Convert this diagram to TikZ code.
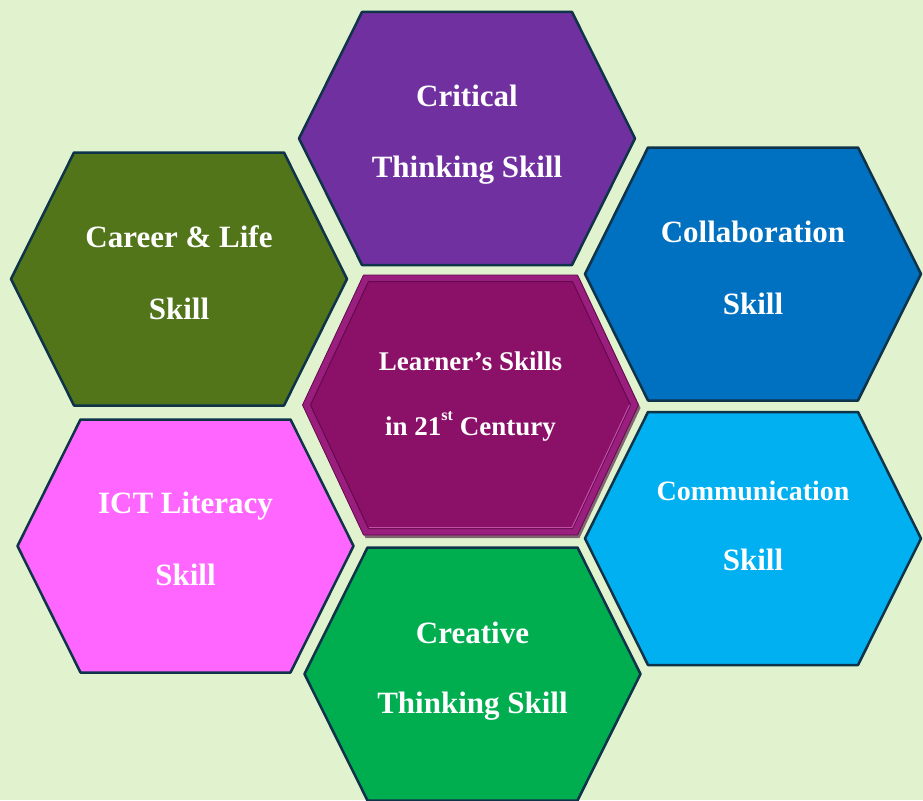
\documentclass[tikz,border=0pt]{standalone}
\usepackage{fontspec}
\setmainfont{Liberation Serif}
\usetikzlibrary{calc}

\definecolor{bgleaf}{HTML}{E1F2CE}
\definecolor{hexline}{HTML}{0F3349}
\definecolor{critfill}{HTML}{7030A0}
\definecolor{careerfill}{HTML}{52751A}
\definecolor{collabfill}{HTML}{0070C0}
\definecolor{ictfill}{HTML}{FF66FF}
\definecolor{commfill}{HTML}{00B0F0}
\definecolor{creafill}{HTML}{00AE50}
\definecolor{corefill}{HTML}{8A1068}
\definecolor{corerim}{HTML}{9A1E7E}
\definecolor{coreedge}{HTML}{640A4C}
\definecolor{coreglow}{HTML}{C050A8}
\definecolor{coreshade}{HTML}{3C0830}

\begin{document}
\begin{tikzpicture}[x=1pt,y=-1pt,
    hexcell/.style={draw=hexline,line width=2.5pt,line join=round},
    hexagon/.style={insert path={++(-168,0) -- ++(63,-126.5) -- ++(210,0) -- ++(63,126.5) -- ++(-63,126.5) -- ++(-210,0) -- cycle}},
    corehex/.style={insert path={++(-168,0) -- ++(61,-130) -- ++(214,0) -- ++(61,130) -- ++(-61,130) -- ++(-214,0) -- cycle}},
    skilltext/.style={anchor=base,text=white,inner sep=0pt,font=\bfseries\fontsize{31}{36}\selectfont},
    smalltext/.style={skilltext,font=\bfseries\fontsize{27}{32}\selectfont}]

  \useasboundingbox (0,0) rectangle (923,800);
  \fill[bgleaf] (0,0) rectangle (923,800);

  % cell centres
  \coordinate (crit) at (467,138.5);
  \coordinate (career) at (179,279);
  \coordinate (collab) at (753,274);
  \coordinate (ict) at (185.5,546);
  \coordinate (comm) at (753,538.5);
  \coordinate (crea) at (472.5,674);
  \coordinate (core) at (470.5,405);

  % outer cells
  \path[hexcell,fill=critfill] (crit) [hexagon];
  \path[hexcell,fill=careerfill] (career) [hexagon];
  \path[hexcell,fill=collabfill] (collab) [hexagon];
  \path[hexcell,fill=ictfill] (ict) [hexagon];
  \path[hexcell,fill=commfill] (comm) [hexagon];
  \path[hexcell,fill=creafill] (crea) [hexagon];

  % bevelled centre cell
  \path[fill=coreshade,opacity=0.6] ($(core)+(2,3)$) [corehex];
  \path[fill=corerim,draw=coreedge,line width=0.8pt,line join=round] (core) [corehex];
  \path[fill=corefill,draw=coreedge,line width=1pt,line join=round]
    ($(core)+(-160,0)$) -- ++(58,-123.5) -- ++(204,0) -- ++(58,123.5) -- ++(-58,123.5) -- ++(-204,0) -- cycle;
  \draw[coreglow,line width=1pt,line join=round]
    ($(core)+(159,0)$) -- ++(-57.5,122.5) -- ++(-203,0);

  \node[skilltext] (crit-a) at ($(crit)+(0,-32.5)$) {Critical};
  \node[skilltext] (crit-b) at ($(crit)+(0,38.5)$) {Thinking Skill};

  \node[skilltext] (career-a) at ($(career)+(0,-32)$) {Career \& Life};
  \node[skilltext] (career-b) at ($(career)+(0,40)$) {Skill};

  \node[skilltext] (collab-a) at ($(collab)+(0,-32)$) {Collaboration};
  \node[skilltext] (collab-b) at ($(collab)+(0,40)$) {Skill};

  \node[skilltext] (ict-a) at ($(ict)+(0,-33)$) {ICT Literacy};
  \node[skilltext] (ict-b) at ($(ict)+(0,39)$) {Skill};

  \node[smalltext,font=\bfseries\fontsize{28}{32}\selectfont] (comm-a) at ($(comm)+(0,-38.5)$) {Communication};
  \node[skilltext] (comm-b) at ($(comm)+(0,31.5)$) {Skill};

  \node[skilltext] (crea-a) at ($(crea)+(0,-31)$) {Creative};
  \node[skilltext] (crea-b) at ($(crea)+(0,39)$) {Thinking Skill};

  \node[smalltext] (core-a) at ($(core)+(0,-35)$) {Learner’s Skills};
  \node[smalltext] (core-b) at ($(core)+(0,30)$) {in 21\raisebox{15pt}{\fontsize{16}{16}\selectfont st} Century};

\end{tikzpicture}
\end{document}
